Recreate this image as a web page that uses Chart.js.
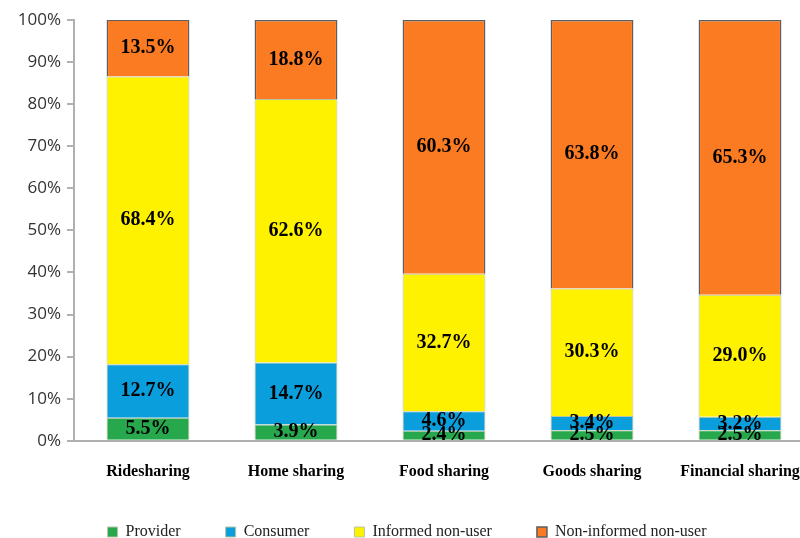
<!DOCTYPE html>
<html>
<head>
<meta charset="utf-8">
<script src="https://cdn.jsdelivr.net/npm/chart.js@4"></script>
<style>
  html, body { margin: 0; padding: 0; background: #fff; overflow: hidden; }
  #wrap { width: 814px; height: 538px; }
</style>
</head>
<body>
<div id="wrap"><canvas id="chart" width="814" height="538"></canvas></div>
<script>
// categories and series (percent of respondents)
const categories = ['Ridesharing', 'Home sharing', 'Food sharing', 'Goods sharing', 'Financial sharing'];
const provider = [5.5, 3.9, 2.4, 2.5, 2.5];
const consumer = [12.7, 14.7, 4.6, 3.4, 3.2];
const informedNonUser = [68.4, 62.6, 32.7, 30.3, 29.0];
const nonInformedNonUser = [13.5, 18.8, 60.3, 63.8, 65.3];
const yTicks = [0, 10, 20, 30, 40, 50, 60, 70, 80, 90, 100];

const X_SHRINK = 15; // pull the legend closer to the category labels

// draws the value in the middle of each segment
const segmentLabels = {
  id: 'segmentLabels',
  afterLayout(chart) {
    // labels are clipped to the scale box, so give it back its room
    chart.scales.x.bottom += X_SHRINK;
  },
  afterDatasetsDraw(chart) {
    const ctx = chart.ctx;
    ctx.save();
    ctx.font = 'bold 20px "Liberation Serif", "Times New Roman", serif';
    ctx.fillStyle = '#000';
    ctx.textAlign = 'center';
    ctx.textBaseline = 'middle';
    chart.data.datasets.forEach((ds, i) => {
      chart.getDatasetMeta(i).data.forEach((bar, j) => {
        const mid = (bar.y + bar.base) / 2;
        ctx.fillText(ds.data[j].toFixed(1) + '%', bar.x, mid);
      });
    });
    ctx.restore();
  }
};

const ctx = document.getElementById('chart').getContext('2d');
new Chart(ctx, {
  type: 'bar',
  data: {
    labels: categories,
    datasets: [
      { label: 'Provider', data: provider, backgroundColor: '#27a84c', borderColor: '#b9c4a2', borderWidth: 1 },
      { label: 'Consumer', data: consumer, backgroundColor: '#0a9fdc', borderColor: '#b9c4a2', borderWidth: 1 },
      { label: 'Informed non-user', data: informedNonUser, backgroundColor: '#fff200', borderColor: '#b9c4a2', borderWidth: 1 },
      { label: 'Non-informed non-user', data: nonInformedNonUser, backgroundColor: '#fb7b22', borderColor: '#5e5e5e', borderWidth: 1.5 }
    ]
  },
  options: {
    responsive: false,
    animation: false,
    devicePixelRatio: 1,
    layout: { padding: { top: 20, right: 0, left: 0, bottom: -12 } },
    datasets: { bar: { barPercentage: 0.56, categoryPercentage: 1 } },
    plugins: {
      legend: {
        position: 'bottom',
        labels: {
          boxWidth: 10,
          boxHeight: 10,
          padding: 45,
          color: '#222',
          font: { family: '"Liberation Serif", "Times New Roman", serif', size: 16 }
        }
      },
      tooltip: { enabled: false }
    },
    scales: {
      x: {
        stacked: true,
        afterFit(scale) { scale.height -= X_SHRINK; },
        grid: { display: false },
        border: { color: '#b0b0b0', width: 2 },
        ticks: {
          padding: 13,
          color: '#000',
          font: { family: '"Liberation Serif", "Times New Roman", serif', size: 16, weight: 'bold' }
        }
      },
      y: {
        stacked: true,
        min: 0,
        max: 100,
        afterFit(scale) { scale.width = 74; },
        afterBuildTicks(scale) { scale.ticks = yTicks.map(v => ({ value: v })); },
        grid: { display: true, drawOnChartArea: false, tickLength: 7, color: '#b0b0b0', lineWidth: 2 },
        border: { color: '#b0b0b0', width: 2 },
        ticks: {
          padding: 6,
          color: '#333',
          font: { family: '"Open Sans", "Liberation Sans", sans-serif', size: 17 },
          callback: v => v + '%'
        }
      }
    }
  },
  plugins: [segmentLabels]
});
</script>
</body>
</html>
